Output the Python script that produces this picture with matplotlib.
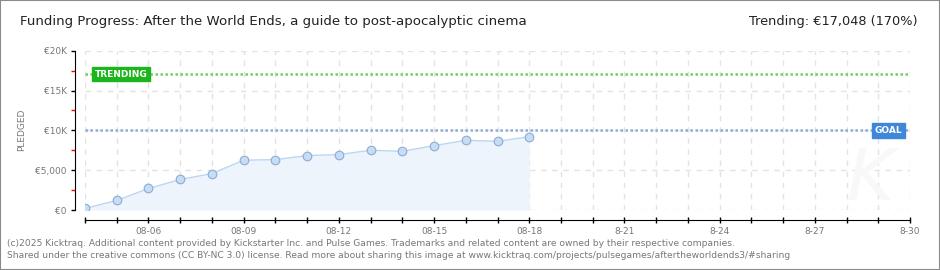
"""Kicktraq-style funding progress chart."""
import matplotlib
matplotlib.use("Agg")
import matplotlib.pyplot as plt
import matplotlib.dates as mdates
import pandas as pd
from matplotlib.patches import Rectangle

# data
dates = ["2025-08-04", "2025-08-05", "2025-08-06", "2025-08-07", "2025-08-08",
         "2025-08-09", "2025-08-10", "2025-08-11", "2025-08-12", "2025-08-13",
         "2025-08-14", "2025-08-15", "2025-08-16", "2025-08-17", "2025-08-18"]
pledged = [200, 1200, 2700, 3830, 4580, 6250, 6330, 6830, 6960, 7500,
           7370, 8080, 8750, 8620, 9200]
goal = 10000
trending = 17048
x_start, x_end = "2025-08-04", "2025-08-30"
label_days = ["2025-08-06", "2025-08-09", "2025-08-12", "2025-08-15", "2025-08-18",
              "2025-08-21", "2025-08-24", "2025-08-27", "2025-08-30"]
label_text = ["08-06", "08-09", "08-12", "08-15", "08-18", "8-21", "8-24", "8-27", "8-30"]
y_ticks = [0, 5000, 10000, 15000, 20000]
y_labels = ["€0", "€5,000", "€10K", "€15K", "€20K"]

GREY = "#777777"
W, H = 940, 270

d = pd.to_datetime(dates)
fig = plt.figure(figsize=(W / 100, H / 100), dpi=100)
ax = fig.add_axes([85 / W, (H - 210) / H, (910 - 85) / W, (210 - 50.7) / H])

ax.fill_between(d, pledged, 0, color="#edf4fc", zorder=1, linewidth=0)
ax.plot(d, pledged, color="#bcd6f2", lw=1, zorder=3)
ax.plot(d, pledged, "o", ms=6.2, mfc="#c6ddf6", mec="#8eabd0", mew=0.8, zorder=4)

ax.axhline(trending, color="#6fd160", lw=1.8, ls=(0, (1, 1)), zorder=2)
ax.axhline(goal, color="#8eacd8", lw=1.8, ls=(0, (1, 1)), zorder=2)

ax.set_xlim(pd.Timestamp(x_start), pd.Timestamp(x_end))
ax.set_ylim(0, 20000)

# grid
ax.xaxis.set_minor_locator(mdates.DayLocator())
ax.set_xticks(pd.to_datetime(label_days))
ax.set_xticklabels(label_text)
ax.set_yticks(y_ticks)
ax.set_yticklabels(y_labels)
ax.set_yticks([2500, 7500, 12500, 17500], minor=True)
ax.grid(True, which="both", axis="x", color="#e3e3e3", lw=1, ls=(0, (4, 4)), zorder=0)
ax.grid(True, which="major", axis="y", color="#e3e3e3", lw=1, ls=(0, (4, 4)), zorder=0)
ax.set_axisbelow(True)

for s in ("top", "right"):
    ax.spines[s].set_visible(False)
ax.spines["left"].set_position(("outward", 7))
ax.spines["bottom"].set_position(("outward", 7.5))
ax.tick_params(axis="x", which="both", direction="inout", length=5, width=1,
               color="black", labelsize=6.5, labelcolor=GREY, pad=2)
ax.tick_params(axis="y", which="major", direction="out", length=3, width=1,
               color="black", labelsize=6.5, labelcolor=GREY, pad=3)
ax.tick_params(axis="y", which="minor", direction="out", length=3, width=1,
               color="red")

# labels on the lines
ax.annotate("TRENDING", xy=(pd.Timestamp(x_start), trending), xytext=(10, 0),
            textcoords="offset pixels", ha="left", va="center", color="white",
            fontsize=6.5, fontweight="bold", zorder=6,
            bbox=dict(boxstyle="square,pad=0.3", fc="#1db51d", ec="#1db51d"))
ax.annotate("GOAL", xy=(pd.Timestamp(x_end), goal), xytext=(-8, 0),
            textcoords="offset pixels", ha="right", va="center", color="white",
            fontsize=6.5, fontweight="bold", zorder=6,
            bbox=dict(boxstyle="square,pad=0.3", fc="#3f87d8", ec="#3f87d8"))

# watermark
fig.text(870 / W, 1 - 180 / H, "K", fontsize=52, style="italic", color="#f8f8f8",
         ha="center", va="center", zorder=0)

fig.text(22 / W, 1 - 130 / H, "PLEDGED", rotation=90, fontsize=6.5, color=GREY,
         ha="center", va="center")

fig.text(20 / W, 1 - 22 / H,
         "Funding Progress: After the World Ends, a guide to post-apocalyptic cinema",
         fontsize=9.6, color="#222222", ha="left", va="center")
fig.text(918 / W, 1 - 22 / H, "Trending: €17,048 (170%)",
         fontsize=9.3, color="#222222", ha="right", va="center")

fig.text(7 / W, 1 - 243 / H,
         "(c)2025 Kicktraq. Additional content provided by Kickstarter Inc. and Pulse Games. "
         "Trademarks and related content are owned by their respective companies.",
         fontsize=6.6, color=GREY, ha="left", va="center")
fig.text(7 / W, 1 - 256 / H,
         "Shared under the creative commons (CC BY-NC 3.0) license. Read more about sharing "
         "this image at www.kicktraq.com/projects/pulsegames/aftertheworldends3/#sharing",
         fontsize=6.6, color=GREY, ha="left", va="center")

fig.patches.append(Rectangle((0, 0), 1, 1, transform=fig.transFigure, fill=False,
                             ec="#8a8a8a", lw=1.5))

fig.savefig("out.png", dpi=100)
